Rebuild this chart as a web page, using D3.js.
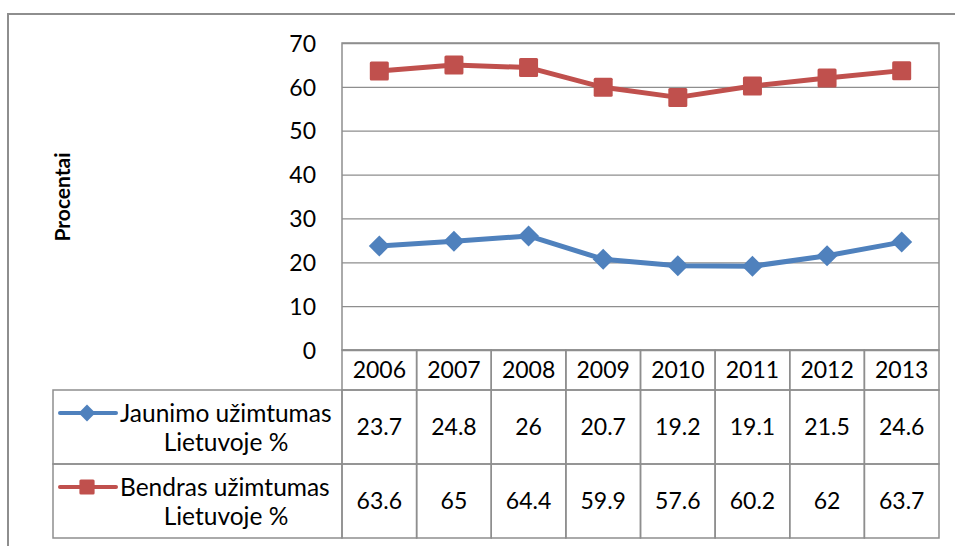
<!DOCTYPE html>
<html>
<head>
<meta charset="utf-8">
<script src="https://cdn.jsdelivr.net/npm/d3@7"></script>
<style>
  body { margin: 0; background: #fff; }
  text { font-family: "Lato", "Open Sans", sans-serif; fill: #000; }
</style>
</head>
<body>
<svg id="chart" width="955" height="546"></svg>
<script>
const years = ["2006", "2007", "2008", "2009", "2010", "2011", "2012", "2013"]
const youth = [23.7, 24.8, 26, 20.7, 19.2, 19.1, 21.5, 24.6]
const total = [63.6, 65, 64.4, 59.9, 57.6, 60.2, 62, 63.7]
const seriesNames = [["Jaunimo užimtumas", "Lietuvoje %"], ["Bendras užimtumas", "Lietuvoje %"]]
const yTicks = [0, 10, 20, 30, 40, 50, 60, 70]

const series = [
    {name: seriesNames[0], values: youth, color: "#4f81bd", marker: "diamond"},
    {name: seriesNames[1], values: total, color: "#c0504d", marker: "square"}
]

const svg = d3.select("#chart")
const grey = "#8e8e8e"

const plot = {left: 342, right: 939, top: 43, bottom: 350}
const table = {left: 53, header: 390, rowH: 74}

const x = d3.scaleBand().domain(years).range([plot.left, plot.right])
const y = d3.scaleLinear().domain([0, 70]).range([plot.bottom, plot.top])

// outer chart frame
svg.append("rect")
    .attr("x", 8).attr("y", 14)
    .attr("width", 960).attr("height", 560)
    .attr("fill", "none").attr("stroke", grey).attr("stroke-width", 2)

// gridlines + y labels
const yAxis = svg.append("g")
    .attr("transform", `translate(${plot.left},0)`)
    .call(d3.axisLeft(y).tickValues(yTicks).tickSize(-(plot.right - plot.left)).tickPadding(26))
yAxis.select(".domain").remove()
yAxis.selectAll(".tick line").attr("stroke", grey).attr("stroke-width", 1.3)
yAxis.selectAll(".tick text")
    .attr("font-size", "23px")
    .attr("font-family", "Lato, sans-serif")
    .attr("dy", "0.36em")
    .attr("fill", "#000")

// plot border
svg.append("rect")
    .attr("x", plot.left).attr("y", plot.top)
    .attr("width", plot.right - plot.left).attr("height", plot.bottom - plot.top)
    .attr("fill", "none").attr("stroke", grey).attr("stroke-width", 1.5)

// axis title
svg.append("text")
    .attr("transform", "translate(70,197) rotate(-90)")
    .attr("text-anchor", "middle")
    .attr("font-size", "21px")
    .attr("font-weight", "bold")
    .text("Procentai")

// data table
const tg = svg.append("g")

// header row cells
tg.selectAll("rect.head")
    .data(years)
    .join("rect")
    .attr("x", d => x(d)).attr("y", plot.bottom)
    .attr("width", x.bandwidth()).attr("height", table.header - plot.bottom)
    .attr("fill", "none").attr("stroke", grey).attr("stroke-width", 1.5)

tg.selectAll("text.head")
    .data(years)
    .join("text")
    .attr("x", d => x(d) + x.bandwidth() / 2)
    .attr("y", (plot.bottom + table.header) / 2)
    .attr("dy", "0.36em")
    .attr("text-anchor", "middle")
    .attr("font-size", "23px")
    .text(d => d)

// body rows
series.forEach((s, r) => {
    const top = table.header + r * table.rowH
    tg.append("rect")
        .attr("x", table.left).attr("y", top)
        .attr("width", plot.left - table.left).attr("height", table.rowH)
        .attr("fill", "none").attr("stroke", grey).attr("stroke-width", 1.5)

    tg.selectAll(null)
        .data(years)
        .join("rect")
        .attr("x", d => x(d)).attr("y", top)
        .attr("width", x.bandwidth()).attr("height", table.rowH)
        .attr("fill", "none").attr("stroke", grey).attr("stroke-width", 1.5)

    tg.selectAll(null)
        .data(s.values)
        .join("text")
        .attr("x", (d, i) => x(years[i]) + x.bandwidth() / 2)
        .attr("y", top + table.rowH / 2)
        .attr("dy", "0.36em")
        .attr("text-anchor", "middle")
        .attr("font-size", "23px")
        .text(d => d)

    // legend key
    const ky = top + 23
    tg.append("line")
        .attr("x1", 60).attr("x2", 116)
        .attr("y1", ky).attr("y2", ky)
        .attr("stroke", s.color).attr("stroke-width", 4).attr("stroke-linecap", "round")
    drawMarker(tg, s, 87, ky, 0.8)

    tg.append("text")
        .attr("x", 120).attr("y", ky)
        .attr("dy", "0.36em")
        .attr("font-size", "24.5px")
        .text(s.name[0])
    tg.append("text")
        .attr("x", 226).attr("y", ky + 29)
        .attr("dy", "0.36em")
        .attr("text-anchor", "middle")
        .attr("font-size", "24.5px")
        .text(s.name[1])
})

function drawMarker(g, s, cx, cy, k) {
    if (s.marker === "diamond") {
        const r = 10.5 * k
        g.append("path")
            .attr("d", `M${cx},${cy - r}L${cx + r},${cy}L${cx},${cy + r}L${cx - r},${cy}Z`)
            .attr("fill", s.color)
    } else {
        const h = 9.5 * k
        g.append("rect")
            .attr("x", cx - h).attr("y", cy - h)
            .attr("width", 2 * h).attr("height", 2 * h)
            .attr("rx", 1.5)
            .attr("fill", s.color)
    }
}

// lines
const line = d3.line()
    .x((d, i) => x(years[i]) + x.bandwidth() / 2)
    .y(d => y(d))

series.forEach(s => {
    svg.append("path")
        .datum(s.values)
        .attr("d", line)
        .attr("fill", "none")
        .attr("stroke", s.color)
        .attr("stroke-width", 5)
        .attr("stroke-linejoin", "round")
    s.values.forEach((v, i) => {
        drawMarker(svg, s, x(years[i]) + x.bandwidth() / 2, y(v), 1)
    })
})
</script>
</body>
</html>
